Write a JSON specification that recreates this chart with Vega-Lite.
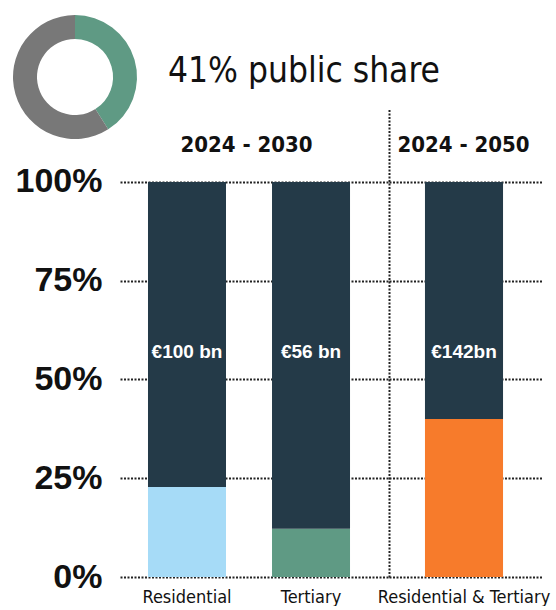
{
  "$schema": "https://vega.github.io/schema/vega-lite/v6.json",
  "padding": {"left": 13, "top": 15, "right": 3, "bottom": 0},
  "background": "white",
  "config": {"view": {"stroke": null}, "font": "Liberation Sans"},
  "bounds": "flush",
  "spacing": 0,
  "resolve": {"scale": {"color": "independent"}},
  "vconcat": [
    {
      "width": 122,
      "height": 62,
      "data": {"values": [
        {"part": "public", "share": 41},
        {"part": "private", "share": 59}
      ]},
      "title": {
        "text": "41% public share",
        "anchor": "start",
        "frame": "group",
        "baseline": "alphabetic",
        "offset": 0,
        "dx": 154,
        "dy": 102,
        "font": "DejaVu Sans Condensed, Roboto Condensed, Roboto",
        "fontWeight": "normal",
        "fontSize": 35,
        "color": "#111111"
      },
      "mark": {"type": "arc", "radius": 62, "radius2": 38},
      "encoding": {
        "theta": {"field": "share", "type": "quantitative", "stack": true},
        "order": {"field": "part", "sort": "descending"},
        "color": {
          "field": "part",
          "type": "nominal",
          "scale": {"domain": ["public", "private"], "range": ["#5f9a84", "#787878"]},
          "legend": null
        }
      }
    },
    {
      "spacing": 0,
      "bounds": "flush",
      "hconcat": [
        {
          "width": 106,
          "height": 469,
          "data": {"values": [{"note": ""}]},
          "mark": {"type": "text"},
          "encoding": {"text": {"field": "note"}}
        },
        {
          "width": 269,
          "height": 469,
          "title": {
            "text": "2024 - 2030",
            "anchor": "middle",
            "frame": "group",
            "baseline": "alphabetic",
            "offset": 0,
            "dy": 66,
            "dx": -8,
            "font": "DejaVu Sans Condensed, Roboto Condensed, Roboto",
            "fontWeight": "bold",
            "fontSize": 22,
            "color": "#111111"
          },
          "layer": [
            {
              "data": {"values": [
                {"category": "Residential", "part": "Residential public", "share": 0.228},
                {"category": "Residential", "part": "private", "share": 0.772},
                {"category": "Tertiary", "part": "Tertiary public", "share": 0.122},
                {"category": "Tertiary", "part": "private", "share": 0.878}
              ]},
              "mark": {"type": "bar"},
              "encoding": {
                "x": {
                  "field": "category",
                  "type": "nominal",
                  "sort": null,
                  "scale": {"paddingInner": 0.371, "paddingOuter": 0.27, "align": 0.418},
                  "axis": {
                    "title": null,
                    "labelAngle": 0,
                    "domain": false,
                    "ticks": false,
                    "labelFont": "DejaVu Sans Condensed, Roboto Condensed, Roboto",
                    "labelFontSize": 18,
                    "labelColor": "#111111",
                    "labelPadding": 11
                  }
                },
                "y": {
                  "field": "share",
                  "type": "quantitative",
                  "stack": "zero",
                  "scale": {"domain": [0, 1.187], "nice": false},
                  "axis": {
                    "values": [0, 0.25, 0.5, 0.75, 1],
                    "format": ".0%",
                    "title": null,
                    "domain": false,
                    "ticks": false,
                    "labelFont": "Liberation Sans",
                    "labelFontWeight": "bold",
                    "labelFontSize": 34,
                    "labelColor": "#111111",
                    "labelPadding": 18,
                    "grid": true,
                    "gridDash": [2, 1.5],
                    "gridColor": "#222222",
                    "gridWidth": 1.8
                  }
                },
                "color": {
                  "field": "part",
                  "type": "nominal",
                  "scale": {
                    "domain": ["Residential public", "Tertiary public", "Residential & Tertiary public", "private"],
                    "range": ["#a6dbf7", "#5f9a84", "#f77b2b", "#243a48"]
                  },
                  "legend": null
                },
                "order": {"field": "part", "sort": "ascending"}
              }
            },
            {
              "data": {"values": [
                {"category": "Residential", "label": "€100 bn"},
                {"category": "Tertiary", "label": "€56 bn"}
              ]},
              "mark": {"type": "text", "color": "white", "font": "Liberation Sans", "fontWeight": "bold", "fontSize": 19},
              "encoding": {
                "x": {"field": "category", "type": "nominal", "sort": null},
                "y": {"datum": 0.57},
                "text": {"field": "label"}
              }
            }
          ]
        },
        {
          "width": 153,
          "height": 469,
          "title": {
            "text": "2024 - 2050",
            "anchor": "middle",
            "frame": "group",
            "baseline": "alphabetic",
            "offset": 0,
            "dy": 66,
            "dx": -2,
            "font": "DejaVu Sans Condensed, Roboto Condensed, Roboto",
            "fontWeight": "bold",
            "fontSize": 22,
            "color": "#111111"
          },
          "layer": [
            {
              "data": {"values": [
                {"category": "Residential & Tertiary", "part": "Residential & Tertiary public", "share": 0.40},
                {"category": "Residential & Tertiary", "part": "private", "share": 0.60}
              ]},
              "mark": {"type": "bar"},
              "encoding": {
                "x": {
                  "field": "category",
                  "type": "nominal",
                  "sort": null,
                  "scale": {"paddingInner": 0, "paddingOuter": 0.48, "align": 0.48},
                  "axis": {
                    "title": null,
                    "labelAngle": 0,
                    "domain": false,
                    "ticks": false,
                    "labelFont": "DejaVu Sans Condensed, Roboto Condensed, Roboto",
                    "labelFontSize": 18,
                    "labelColor": "#111111",
                    "labelPadding": 11
                  }
                },
                "y": {
                  "field": "share",
                  "type": "quantitative",
                  "stack": "zero",
                  "scale": {"domain": [0, 1.187], "nice": false},
                  "axis": {
                    "values": [0, 0.25, 0.5, 0.75, 1],
                    "title": null,
                    "labels": false,
                    "ticks": false,
                    "domain": true,
                    "domainDash": [2, 1.5],
                    "domainColor": "#222222",
                    "domainWidth": 2,
                    "grid": true,
                    "gridDash": [2, 1.5],
                    "gridColor": "#222222",
                    "gridWidth": 1.8
                  }
                },
                "color": {
                  "field": "part",
                  "type": "nominal",
                  "scale": {
                    "domain": ["Residential public", "Tertiary public", "Residential & Tertiary public", "private"],
                    "range": ["#a6dbf7", "#5f9a84", "#f77b2b", "#243a48"]
                  },
                  "legend": null
                },
                "order": {"field": "part", "sort": "ascending"}
              }
            },
            {
              "data": {"values": [
                {"category": "Residential & Tertiary", "label": "€142bn"}
              ]},
              "mark": {"type": "text", "color": "white", "font": "Liberation Sans", "fontWeight": "bold", "fontSize": 19},
              "encoding": {
                "x": {"field": "category", "type": "nominal", "sort": null},
                "y": {"datum": 0.57},
                "text": {"field": "label"}
              }
            }
          ]
        }
      ]
    }
  ]
}
